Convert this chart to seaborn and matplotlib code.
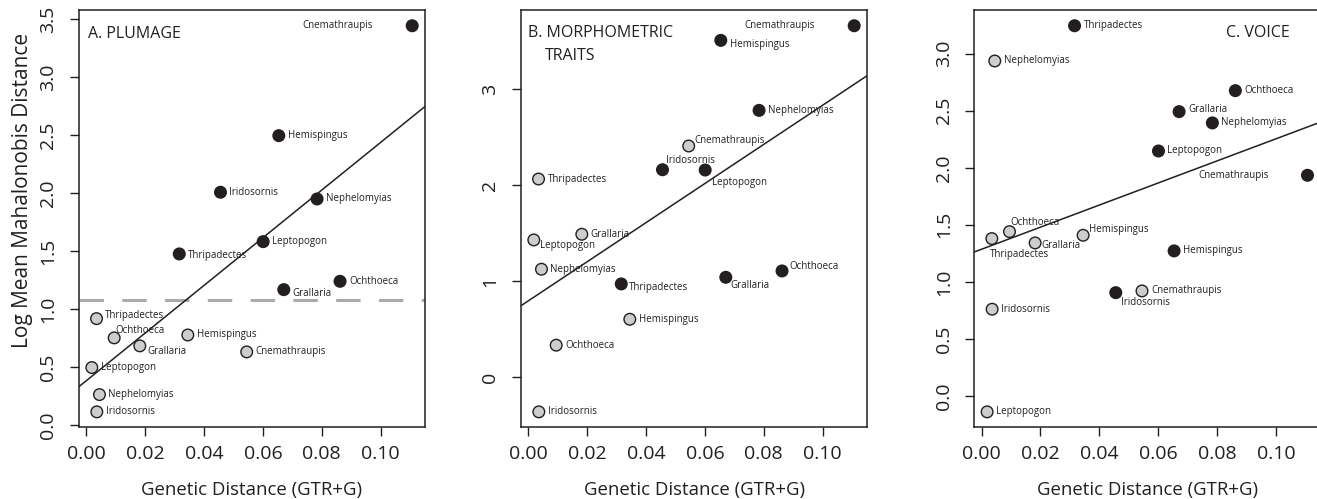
import numpy as np
import pandas as pd
import matplotlib.pyplot as plt
import seaborn as sns

# genus pairs (same order in every list)
genera = ['Cnemathraupis', 'Hemispingus', 'Iridosornis', 'Nephelomyias',
          'Leptopogon', 'Thripadectes', 'Ochthoeca', 'Grallaria']

# genetic distance (GTR+G): black = between, gray = within
gd_between = [0.1107, 0.0654, 0.0456, 0.0784, 0.0601, 0.0316, 0.0862, 0.0671]
gd_within = [0.0545, 0.0345, 0.0036, 0.0045, 0.0019, 0.0035, 0.0095, 0.0182]

# log mean Mahalanobis distance for each trait set
plumage_between = [3.445, 2.497, 2.009, 1.951, 1.583, 1.477, 1.241, 1.169]
plumage_within = [0.632, 0.778, 0.115, 0.264, 0.497, 0.919, 0.753, 0.684]
morpho_between = [3.659, 3.507, 2.160, 2.778, 2.157, 0.971, 1.106, 1.040]
morpho_within = [2.407, 0.603, -0.361, 1.124, 1.429, 2.063, 0.333, 1.488]
voice_between = [1.934, 1.271, 0.905, 2.393, 2.147, 3.245, 2.676, 2.492]
voice_within = [0.920, 1.408, 0.760, 2.936, -0.140, 1.379, 1.440, 1.341]

plumage_threshold = 1.08

panels = [
    ('A', plumage_between, plumage_within, [0, 0.5, 1.0, 1.5, 2.0, 2.5, 3.0, 3.5], '{:.1f}'),
    ('B', morpho_between, morpho_within, [0, 1, 2, 3], '{:.0f}'),
    ('C', voice_between, voice_within, [0, 0.5, 1.0, 1.5, 2.0, 2.5, 3.0], '{:.1f}'),
]

# label offsets in pixels (dx, dy down, ha); default is (9, 0, left)
label_offsets = {
    ('A', 'between', 'Cnemathraupis'): (-39, 0, 'right'),
    ('A', 'between', 'Thripadectes'): (9, 2, 'left'),
    ('A', 'between', 'Grallaria'): (9, 4, 'left'),
    ('A', 'within', 'Thripadectes'): (8, -3, 'left'),
    ('A', 'within', 'Ochthoeca'): (1, -7, 'left'),
    ('A', 'within', 'Grallaria'): (8, 6, 'left'),
    ('B', 'between', 'Cnemathraupis'): (-39, 0, 'right'),
    ('B', 'between', 'Hemispingus'): (9, 4, 'left'),
    ('B', 'between', 'Iridosornis'): (4, -9, 'left'),
    ('B', 'between', 'Leptopogon'): (7, 12, 'left'),
    ('B', 'between', 'Ochthoeca'): (7, -4, 'left'),
    ('B', 'between', 'Grallaria'): (5, 8, 'left'),
    ('B', 'between', 'Thripadectes'): (8, 4, 'left'),
    ('B', 'within', 'Cnemathraupis'): (6, -5, 'left'),
    ('B', 'within', 'Leptopogon'): (6, 6, 'left'),
    ('C', 'between', 'Cnemathraupis'): (-39, 0, 'right'),
    ('C', 'between', 'Grallaria'): (9, -2, 'left'),
    ('C', 'between', 'Iridosornis'): (5, 10, 'left'),
    ('C', 'within', 'Ochthoeca'): (1, -9, 'left'),
    ('C', 'within', 'Hemispingus'): (6, -6, 'left'),
    ('C', 'within', 'Thripadectes'): (-2, 16, 'left'),
    ('C', 'within', 'Grallaria'): (6, 3, 'left'),
}

sns.set_style('ticks')
plt.rcParams['font.family'] = ['Open Sans', 'DejaVu Sans']
ink = '#231f20'

fig = plt.figure(figsize=(13.17, 4.99), dpi=100)
lefts = [79 / 1317, 521 / 1317, 974.3 / 1317]
W, H = 346 / 1317, 417 / 499
B0 = (499 - 427.3) / 499

for (tag, yb, yw, yticks, fmt), left in zip(panels, lefts):
    ax = fig.add_axes([left, B0, W, H])
    df = pd.DataFrame({
        'genus': genera * 2,
        'gd': gd_between + gd_within,
        'dist': yb + yw,
        'group': ['between'] * 8 + ['within'] * 8,
    })
    # R-style 4% padding around the data range
    xlo, xhi = df['gd'].min(), df['gd'].max()
    ylo, yhi = df['dist'].min(), df['dist'].max()
    xlim = (xlo - 0.04 * (xhi - xlo), xhi + 0.04 * (xhi - xlo))
    ylim = (ylo - 0.04 * (yhi - ylo), yhi + 0.04 * (yhi - ylo))
    ax.set_xlim(xlim)
    ax.set_ylim(ylim)

    if tag == 'A':
        ax.axhline(plumage_threshold, color='#aaaaaa', lw=2.2, dashes=(8, 6), zorder=1)

    sns.regplot(data=df, x='gd', y='dist', ax=ax, scatter=False, ci=None,
                truncate=False, line_kws=dict(color=ink, lw=1.1, zorder=2))
    sns.scatterplot(data=df, x='gd', y='dist', hue='group', ax=ax,
                    palette={'between': ink, 'within': '#cdcdcd'},
                    edgecolor=ink, linewidth=1.0, s=70, legend=False, zorder=3)

    for _, r in df.iterrows():
        dx, dy, ha = label_offsets.get((tag, r['group'], r['genus']), (9, 0, 'left'))
        ax.annotate(r['genus'], (r['gd'], r['dist']), xytext=(dx * 0.72, -dy * 0.72),
                    textcoords='offset points', ha=ha, va='center',
                    fontsize=7, color=ink, zorder=4)

    ax.set_xlim(xlim)
    ax.set_ylim(ylim)
    ax.set_xticks([0, 0.02, 0.04, 0.06, 0.08, 0.10])
    ax.set_xticklabels(['{:.2f}'.format(v) for v in [0, 0.02, 0.04, 0.06, 0.08, 0.10]])
    ax.set_yticks(yticks)
    ax.set_yticklabels([fmt.format(v) for v in yticks], rotation=90, va='center')
    ax.tick_params(axis='both', length=6.5, width=1, color=ink, labelsize=14,
                   labelcolor=ink)
    ax.tick_params(axis='x', pad=6)
    ax.tick_params(axis='y', pad=9)
    for sp in ax.spines.values():
        sp.set_visible(True)
        sp.set_linewidth(1.1)
        sp.set_color(ink)
    ax.set_xlabel('Genetic Distance (GTR+G)', fontsize=13.4, color=ink, labelpad=13)
    if tag == 'A':
        ax.set_ylabel('Log Mean Mahalonobis Distance', fontsize=15, color=ink)
        ax.yaxis.set_label_coords(-0.133, 0.567)
        ax.text(8.7 / 346, 1 - 24 / 417, 'A. PLUMAGE', transform=ax.transAxes,
                fontsize=11.5, color=ink, va='center', ha='left')
    else:
        ax.set_ylabel('')
    if tag == 'B':
        ax.text(7.3 / 346, 1 - 23 / 417, 'B. MORPHOMETRIC', transform=ax.transAxes,
                fontsize=11.5, color=ink, va='center', ha='left')
        ax.text(24 / 346, 1 - 45.4 / 417, 'TRAITS', transform=ax.transAxes,
                fontsize=11.5, color=ink, va='center', ha='left')
    if tag == 'C':
        ax.text(315.7 / 346, 1 - 23 / 417, 'C. VOICE', transform=ax.transAxes,
                fontsize=11.5, color=ink, va='center', ha='right')

fig.savefig('out.png', dpi=100)
